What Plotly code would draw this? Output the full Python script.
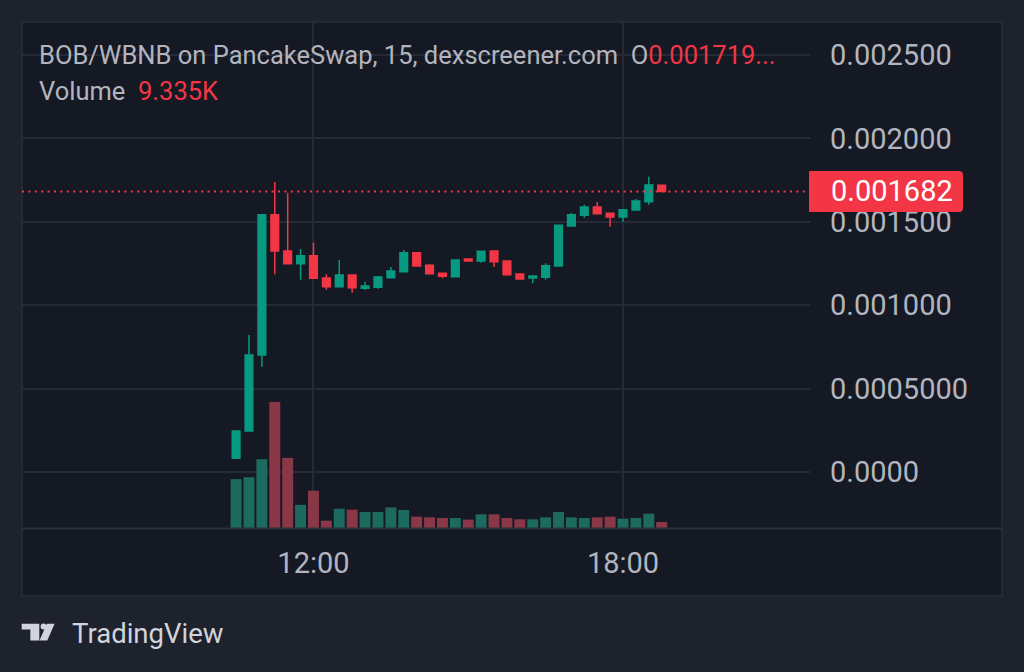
import plotly.graph_objects as go
import pandas as pd

# ---------------- data ----------------
start_time = "2024-01-01 10:30"
n_candles = 34
opens = [0.0000821, 0.000246, 0.000701, 0.001543, 0.001325, 0.001249, 0.001297, 0.001163,
         0.001111, 0.001181, 0.001101, 0.001107, 0.001165, 0.001201, 0.001315, 0.001239,
         0.001191, 0.001171, 0.001277, 0.001265, 0.001325, 0.001265, 0.001187, 0.001163,
         0.001167, 0.001235, 0.001475, 0.001539, 0.001589, 0.001551, 0.001529, 0.001571,
         0.001621, 0.001719]
highs = [0.000246, 0.000821, 0.001543, 0.001739, 0.001674, 0.001337, 0.001375, 0.001185,
         0.001271, 0.001181, 0.001139, 0.001175, 0.001229, 0.001331, 0.001315, 0.001245,
         0.001191, 0.001271, 0.001277, 0.001323, 0.001325, 0.001265, 0.001187, 0.001179,
         0.001251, 0.001479, 0.001555, 0.001603, 0.001619, 0.001551, 0.001573, 0.001637,
         0.001770, 0.001719]
lows = [0.0000821, 0.000246, 0.000631, 0.001185, 0.001249, 0.001153, 0.001161, 0.001093,
        0.001107, 0.001075, 0.001091, 0.001099, 0.001165, 0.001201, 0.001235, 0.001189,
        0.001161, 0.001171, 0.001265, 0.001255, 0.001229, 0.001183, 0.001157, 0.001131,
        0.001153, 0.001235, 0.001475, 0.001525, 0.001549, 0.001471, 0.001501, 0.001571,
        0.001603, 0.001682]
closes = [0.000246, 0.000701, 0.001543, 0.001325, 0.001249, 0.001297, 0.001161, 0.001111,
          0.001181, 0.001105, 0.001115, 0.001169, 0.001205, 0.001315, 0.001235, 0.001189,
          0.001173, 0.001271, 0.001265, 0.001323, 0.001261, 0.001183, 0.001157, 0.001175,
          0.001237, 0.001479, 0.001543, 0.001589, 0.001549, 0.001529, 0.001573, 0.001625,
          0.001721, 0.001682]
volumes_k = [76, 79, 107, 196, 109, 36, 58, 11.4, 30, 28.5, 25, 25, 32, 28, 17.6, 16.6,
             15.6, 15.6, 13, 21.3, 21.3, 15.6, 13.5, 13.5, 16.6, 25, 16.6, 15.6, 16.6, 17.6,
             14.5, 15.6, 22.3, 9.335]

price_tick_vals = [0.0, 0.0005, 0.001, 0.0015, 0.002, 0.0025]
price_tick_text = ["0.0000", "0.0005000", "0.001000", "0.001500", "0.002000", "0.002500"]
time_tick_vals = ["2024-01-01 12:00", "2024-01-01 18:00"]
time_tick_text = ["12:00", "18:00"]
last_price = 0.001682
last_price_text = "0.001682"
header_title = "BOB/WBNB on PancakeSwap, 15, dexscreener.com"
header_open = "0.001719..."
volume_label = "9.335K"

times = pd.date_range(start_time, periods=n_candles, freq="15min")

# ---------------- style ----------------
UP = "#089981"
DOWN = "#f23645"
VOL_UP = "#1d6a5e"
VOL_DOWN = "#8a3847"
OUTER_BG = "#1e222d"
INNER_BG = "#151924"
GRID = "#262a36"
BORDER = "#2a2e39"
TEXT = "#b2b5be"
FONT = "Roboto"

W, H = 1024, 672
PX0, PX1, PY0, PY1 = 22, 810, 22, 528  # plot area in pixels


def px(x):
    return (x - PX0) / (PX1 - PX0)


def py(y):
    return (PY1 - y) / (PY1 - PY0)


vol_colors = [VOL_UP if c >= o else VOL_DOWN for o, c in zip(opens, closes)]

fig = go.Figure()
fig.add_trace(go.Bar(
    x=times, y=volumes_k, yaxis="y2",
    marker=dict(color=vol_colors, line=dict(width=0)),
    width=0.85 * 15 * 60 * 1000,
    hoverinfo="skip", showlegend=False,
))
fig.add_trace(go.Candlestick(
    x=times, open=opens, high=highs, low=lows, close=closes,
    increasing=dict(line=dict(color=UP, width=1.5), fillcolor=UP),
    decreasing=dict(line=dict(color=DOWN, width=1.5), fillcolor=DOWN),
    whiskerwidth=0, showlegend=False,
))

t12 = pd.Timestamp("2024-01-01 12:00")
x_range = [t12 - pd.Timedelta(minutes=339), t12 + pd.Timedelta(minutes=577.5)]

shapes = [
    # pane background & borders
    dict(type="rect", xref="paper", yref="paper", x0=px(22), x1=px(1002), y0=py(596), y1=py(22),
         fillcolor=INNER_BG, line=dict(color=BORDER, width=1.5), layer="below"),
    dict(type="line", xref="paper", yref="paper", x0=px(22), x1=px(1002), y0=py(528.5), y1=py(528.5),
         line=dict(color=BORDER, width=2), layer="above"),
    # last price dotted line
    dict(type="line", xref="paper", yref="y", x0=0, x1=1, y0=last_price, y1=last_price,
         line=dict(color=DOWN, width=2, dash="2px,4.4px"), layer="above"),
]

# rounded last-price label box
bx0, bx1, by0, by1, r = 809, 963, 171, 212, 4
rx = r / (PX1 - PX0)
ry = r / (PY1 - PY0)
X0, X1, Y0, Y1 = px(bx0), px(bx1), py(by1), py(by0)
path = (f"M {X0} {Y0} L {X0} {Y1} L {X1 - rx} {Y1} Q {X1} {Y1} {X1} {Y1 - ry} "
        f"L {X1} {Y0 + ry} Q {X1} {Y0} {X1 - rx} {Y0} Z")
shapes.append(dict(type="path", xref="paper", yref="paper", path=path,
                   fillcolor=DOWN, line=dict(width=0), layer="above"))

# TradingView logo
LOGO = "#d1d4dc"
shapes += [
    dict(type="path", xref="paper", yref="paper",
         path=f"M {px(21.7)} {py(623.7)} L {px(39.3)} {py(623.7)} L {px(39.3)} {py(640.5)} "
              f"L {px(30.3)} {py(640.5)} L {px(30.3)} {py(629.6)} L {px(21.7)} {py(629.6)} Z",
         fillcolor=LOGO, line=dict(width=0)),
    dict(type="circle", xref="paper", yref="paper", x0=px(40.6), x1=px(46.4), y0=py(629.4), y1=py(623.6),
         fillcolor=LOGO, line=dict(width=0)),
    dict(type="path", xref="paper", yref="paper",
         path=f"M {px(46.8)} {py(623.7)} L {px(54.6)} {py(623.7)} L {px(47.3)} {py(640.5)} "
              f"L {px(39.5)} {py(640.5)} Z",
         fillcolor=LOGO, line=dict(width=0)),
]

annotations = [
    dict(xref="paper", yref="paper", x=px(37), y=py(55), xanchor="left", yanchor="middle",
         text=f"{header_title}  O<span style='color:{DOWN}'>{header_open}</span>",
         showarrow=False, font=dict(family=FONT, size=25.5, color=TEXT)),
    dict(xref="paper", yref="paper", x=px(37), y=py(91), xanchor="left", yanchor="middle",
         text=f"Volume  <span style='color:{DOWN}'>{volume_label}</span>",
         showarrow=False, font=dict(family=FONT, size=25.5, color=TEXT)),
    dict(xref="paper", yref="y", x=px(829), y=last_price, xanchor="left", yanchor="middle",
         text=last_price_text, showarrow=False,
         font=dict(family=FONT, size=29, color="#ffffff")),
    dict(xref="paper", yref="paper", x=px(70), y=py(633), xanchor="left", yanchor="middle",
         text="TradingView", showarrow=False,
         font=dict(family=FONT, size=27.5, color=LOGO)),
]

fig.update_layout(
    width=W, height=H,
    margin=dict(l=PX0, r=W - PX1, t=PY0, b=H - PY1, pad=0),
    paper_bgcolor=OUTER_BG, plot_bgcolor=INNER_BG,
    boxgap=0.15,
    showlegend=False,
    xaxis=dict(
        type="date", range=x_range, rangeslider=dict(visible=False),
        tickvals=time_tick_vals, ticktext=time_tick_text,
        showgrid=True, gridcolor=GRID, gridwidth=1.5,
        zeroline=False, showline=False, ticks="",
        ticklabelstandoff=15,
        tickfont=dict(family=FONT, size=29, color=TEXT),
        fixedrange=True,
    ),
    yaxis=dict(
        side="right", range=[-0.0003357, 0.002698],
        tickvals=price_tick_vals, ticktext=price_tick_text,
        showgrid=True, gridcolor=GRID, gridwidth=1.5,
        zeroline=False, showline=False, ticks="",
        ticklabelstandoff=19,
        tickfont=dict(family=FONT, size=29, color=TEXT),
    ),
    yaxis2=dict(overlaying="y", range=[0, 787], visible=False, fixedrange=True),
    shapes=shapes,
    annotations=annotations,
    hovermode=False,
)

fig.write_html("out.html", config=dict(displayModeBar=False),
               post_script="document.body.style.margin='0';document.body.style.overflow='hidden';")
